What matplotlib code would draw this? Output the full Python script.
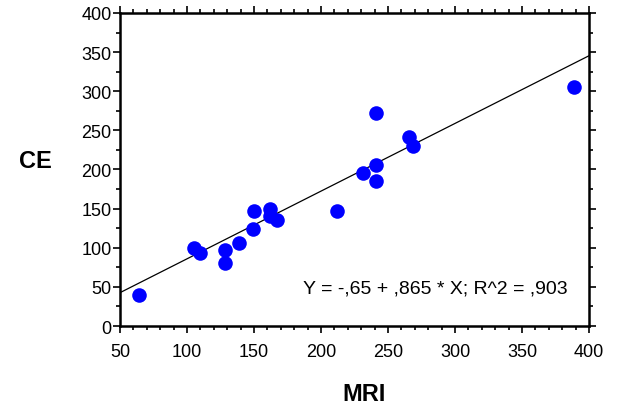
import numpy as np
import matplotlib.pyplot as plt
from matplotlib.ticker import MultipleLocator

plt.rcParams['font.family'] = ['Liberation Sans', 'DejaVu Sans']

# values
mri = [64, 105, 110, 128, 128, 139, 149, 150, 162, 162, 167, 212,
       241, 231, 241, 241, 266, 269, 389]
ce = [39, 100, 93, 97, 80, 106, 124, 147, 150, 141, 135, 147,
      272, 196, 206, 185, 242, 230, 306]
intercept = -0.65
slope = 0.865
fit_text = 'Y = -,65 + ,865 * X; R^2 = ,903'

fig = plt.figure(figsize=(6.23, 4.10), dpi=100)
ax = fig.add_axes([0.1926, 0.2024, 0.7528, 0.7635])

xs = np.array([50, 400])
ax.plot(xs, intercept + slope * xs, color='black', lw=0.9, zorder=2)
ax.scatter(mri, ce, s=110, color='#0000ff', zorder=3, linewidths=0)

ax.set_xlim(50, 400)
ax.set_ylim(0, 400)
ax.xaxis.set_major_locator(MultipleLocator(50))
ax.xaxis.set_minor_locator(MultipleLocator(10))
ax.yaxis.set_major_locator(MultipleLocator(50))
ax.yaxis.set_minor_locator(MultipleLocator(25))
ax.tick_params(which='both', direction='out', top=True, right=True,
               labelsize=13, width=1.2)
ax.tick_params(which='major', length=5)
ax.tick_params(which='minor', length=3)
ax.tick_params(axis='x', which='major', pad=7)
ax.tick_params(axis='y', which='major', pad=1)
for s in ax.spines.values():
    s.set_linewidth(1.8)

ax.text(0.673, 0.121, fit_text, transform=ax.transAxes, ha='center',
        va='center', fontsize=14)

fig.text(0.584, 0.039, 'MRI', fontsize=17, fontweight='bold',
         ha='center', va='center')
fig.text(0.056, 0.607, 'CE', fontsize=17, fontweight='bold',
         ha='center', va='center')

plt.savefig('out.png', dpi=100)
